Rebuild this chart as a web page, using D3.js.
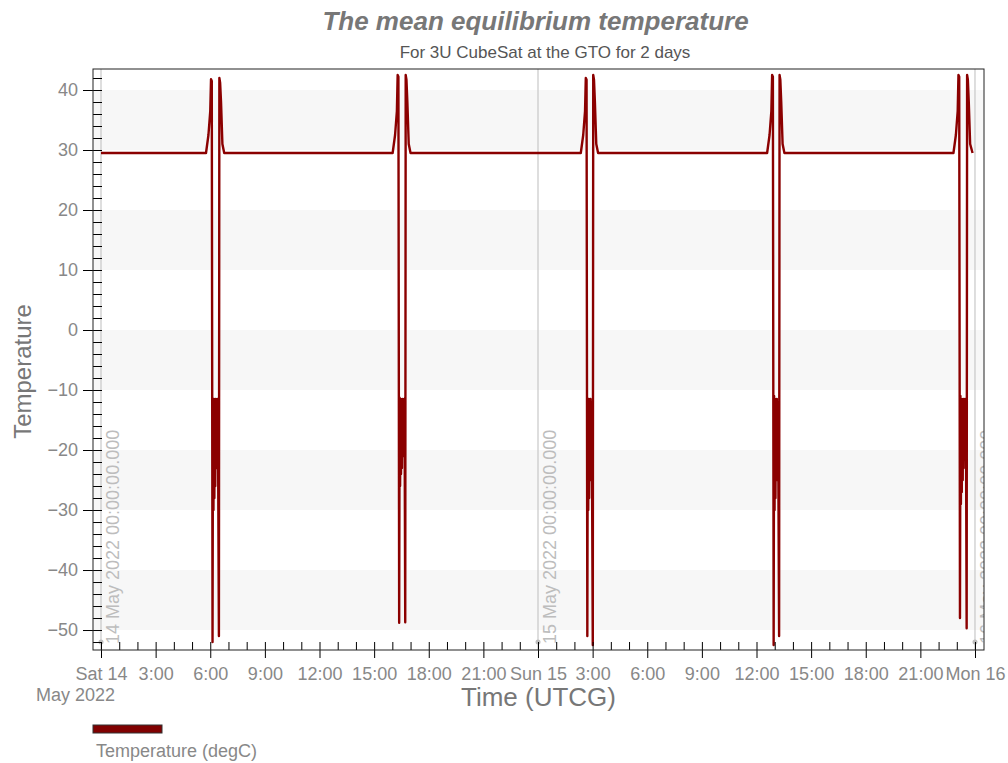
<!DOCTYPE html>
<html>
<head>
<meta charset="utf-8">
<script src="https://cdn.jsdelivr.net/npm/d3@7"></script>
<style>
  body { margin: 0; background: #fff; }
  svg { font-family: Arial, "Liberation Sans", sans-serif; }
</style>
</head>
<body>
<svg id="chart" width="1008" height="763"></svg>
<script>
// -------- data --------
// minutes since 14 May 2022 00:00 UTC, and the temperature read at that time (degC)
const minutes = [
  0,
  346, 354, 360, 362.5, 365, 367.5, 369, 370.5, 372, 373.5, 375, 376.5, 378, 379.5, 381, 382.5, 384, 385.5, 388.5, 390, 392.5, 395.5, 400, 406,
  961, 969, 975, 977.5, 980, 982.5, 984, 985.5, 987, 988.5, 990, 991.5, 993, 994.5, 996, 997.5, 999, 1000.5, 1002.5, 1004, 1006.5, 1009.5, 1014, 1020,
  1581, 1589, 1595, 1597.5, 1600, 1602.5, 1604, 1605.5, 1607, 1608.5, 1610, 1611.5, 1613, 1614.5, 1616, 1617.5, 1620.5, 1622, 1624.5, 1627.5, 1632, 1638,
  2195, 2203, 2209, 2211.5, 2214, 2216.5, 2218, 2219.5, 2221, 2222.5, 2224, 2225.5, 2227, 2228.5, 2230, 2231.5, 2234.5, 2236, 2238.5, 2241.5, 2246, 2252,
  2809, 2817, 2823, 2825.5, 2828, 2830.5, 2832, 2833.5, 2835, 2836.5, 2838, 2839.5, 2841, 2842.5, 2844, 2845.5, 2847, 2848.5, 2850, 2852.5, 2854, 2856.5, 2859.5, 2864, 2872
];
const temperature = [
  29.5,
  29.5, 32.5, 36.5, 41.8, 41.5, -52, -12, -30, -11.5, -28, -12, -26, -11.5, -23, -12, -20, -11.5, -17, -51, 42, 41.2, 38, 31, 29.5,
  29.5, 32.5, 36.5, 42.5, 42.2, -48.8, -11.3, -26, -11.5, -24, -12, -23, -11.5, -21, -12, -19, -11.5, -16, -48.7, 42.5, 41.7, 38, 31, 29.5,
  29.5, 32.5, 36.5, 42, 41.7, -51, -12, -30, -11.5, -28, -12, -25, -11.5, -22, -12, -18, -52.5, 42.5, 41.7, 38, 31, 29.5,
  29.5, 32.5, 36.5, 42.5, 42.2, -52.5, -11, -30, -11.5, -28, -12, -25, -11.5, -22, -12, -18, -51, 42.5, 41.7, 38, 31, 29.5,
  29.5, 32.5, 36.5, 42.5, 42.2, -48, -11, -29, -11.5, -27, -12, -25, -11.5, -23, -12, -20, -11.5, -17, -12, -49.7, 42.5, 41.7, 38, 31, 29.5
];
const startTime = "2022-05-14T00:00:00Z";
const xDomain = ["2022-05-13T23:33:36Z", "2022-05-16T00:29:40Z"];
const yDomain = [-53.33, 43.5];
const yTicks = [-50, -40, -30, -20, -10, 0, 10, 20, 30, 40];
const yBands = [[30, 40], [10, 20], [-10, 0], [-30, -20], [-50, -40]];
const markerTimes = ["2022-05-14T00:00:00Z", "2022-05-15T00:00:00Z", "2022-05-16T00:00:00Z"];
const markerLabels = ["14 May 2022 00:00:00.000", "15 May 2022 00:00:00.000", "16 May 2022 00:00:00.000"];

// -------- setup --------
const svg = d3.select("#chart");
const margin = { left: 93, right: 24, top: 69, bottom: 113 };
const plotW = 1008 - margin.left - margin.right,
  plotH = 763 - margin.top - margin.bottom;

const x = d3.scaleUtc().domain(xDomain.map(d => new Date(d))).range([0, plotW]);
const y = d3.scaleLinear().domain(yDomain).range([plotH, 0]);

const t0 = new Date(startTime).getTime();
const series = minutes.map((m, i) => ({ date: new Date(t0 + m * 60000), value: temperature[i] }));

const g = svg.append("g").attr("transform", `translate(${margin.left},${margin.top})`);

svg.append("defs").append("clipPath").attr("id", "plotClip")
  .append("rect").attr("width", plotW).attr("height", plotH);

// background bands
g.append("g").selectAll("rect").data(yBands).enter().append("rect")
  .attr("x", 0).attr("width", plotW)
  .attr("y", d => y(d[1]))
  .attr("height", d => y(d[0]) - y(d[1]))
  .attr("fill", "#f7f7f7");

// date markers
const markers = g.append("g").attr("clip-path", "url(#plotClip)");
markerTimes.forEach((t, i) => {
  const mx = x(new Date(t));
  markers.append("line")
    .attr("x1", mx).attr("x2", mx).attr("y1", 0).attr("y2", plotH)
    .attr("stroke", "#bdbdbd").attr("stroke-width", 1);
  markers.append("circle")
    .attr("cx", mx).attr("cy", plotH - 8).attr("r", 2.5).attr("fill", "#bdbdbd");
  markers.append("text")
    .attr("transform", `translate(${mx + 18},${plotH - 6}) rotate(-90)`)
    .attr("fill", "#bdbdbd").attr("font-size", 18)
    .text(markerLabels[i]);
});

// temperature line
const line = d3.line().x(d => x(d.date)).y(d => y(d.value));
g.append("path")
  .datum(series)
  .attr("clip-path", "url(#plotClip)")
  .attr("fill", "none")
  .attr("stroke", "#8b0000")
  .attr("stroke-width", 2.4)
  .attr("stroke-linejoin", "round")
  .attr("d", line);

// -------- axes --------
function styleAxis(sel) {
  sel.select(".domain").remove();
  sel.selectAll(".tick line").attr("stroke", "#000");
  sel.selectAll(".tick text").attr("fill", "#888").attr("font-size", 18).attr("font-family", "Arial, 'Liberation Sans', sans-serif");
}

// y minor ticks (inside)
g.append("g")
  .call(d3.axisRight(y).tickValues(d3.range(-52, 43, 2)).tickSize(9).tickFormat(""))
  .call(styleAxis);
// y major ticks
g.append("g")
  .call(d3.axisLeft(y).tickValues(yTicks).tickSize(10).tickPadding(5))
  .call(styleAxis);

// x minor ticks (inside)
g.append("g")
  .attr("transform", `translate(0,${plotH})`)
  .call(d3.axisTop(x).ticks(d3.utcHour.every(1)).tickSize(8).tickFormat(""))
  .call(styleAxis);
// x major ticks
const fmtDay = d3.utcFormat("%a %d"), fmtHour = d3.utcFormat("%-H:%M");
g.append("g")
  .attr("transform", `translate(0,${plotH})`)
  .call(d3.axisBottom(x).ticks(d3.utcHour.every(3)).tickSize(8).tickPadding(9)
    .tickFormat(d => d.getUTCHours() === 0 ? fmtDay(d) : fmtHour(d)))
  .call(styleAxis);

// plot border
g.append("rect")
  .attr("width", plotW).attr("height", plotH)
  .attr("fill", "none").attr("stroke", "#222").attr("stroke-width", 1);

// year under first day
svg.append("text")
  .attr("x", 115).attr("y", 701)
  .attr("text-anchor", "end").attr("fill", "#888").attr("font-size", 18)
  .text("May 2022");

// -------- titles --------
svg.append("text")
  .attr("x", margin.left + plotW / 2 - 3).attr("y", 30)
  .attr("text-anchor", "middle")
  .attr("font-size", 26).attr("font-weight", "bold").attr("font-style", "italic")
  .attr("fill", "#777")
  .text("The mean equilibrium temperature");

svg.append("text")
  .attr("x", 545).attr("y", 58)
  .attr("text-anchor", "middle")
  .attr("font-size", 17).attr("fill", "#555")
  .text("For 3U CubeSat at the GTO for 2 days");

svg.append("text")
  .attr("transform", `translate(31,${margin.top + plotH / 2 + 12}) rotate(-90)`)
  .attr("text-anchor", "middle")
  .attr("font-size", 24).attr("fill", "#777")
  .text("Temperature");

svg.append("text")
  .attr("x", margin.left + plotW / 2).attr("y", 706)
  .attr("text-anchor", "middle")
  .attr("font-size", 26).attr("fill", "#777")
  .text("Time (UTCG)");

// -------- legend --------
svg.append("rect")
  .attr("x", 93).attr("y", 725).attr("width", 69).attr("height", 8)
  .attr("fill", "#800000").attr("stroke", "#333").attr("stroke-width", 1);
svg.append("text")
  .attr("x", 96).attr("y", 757)
  .attr("fill", "#888").attr("font-size", 18)
  .text("Temperature (degC)");
</script>
</body>
</html>
